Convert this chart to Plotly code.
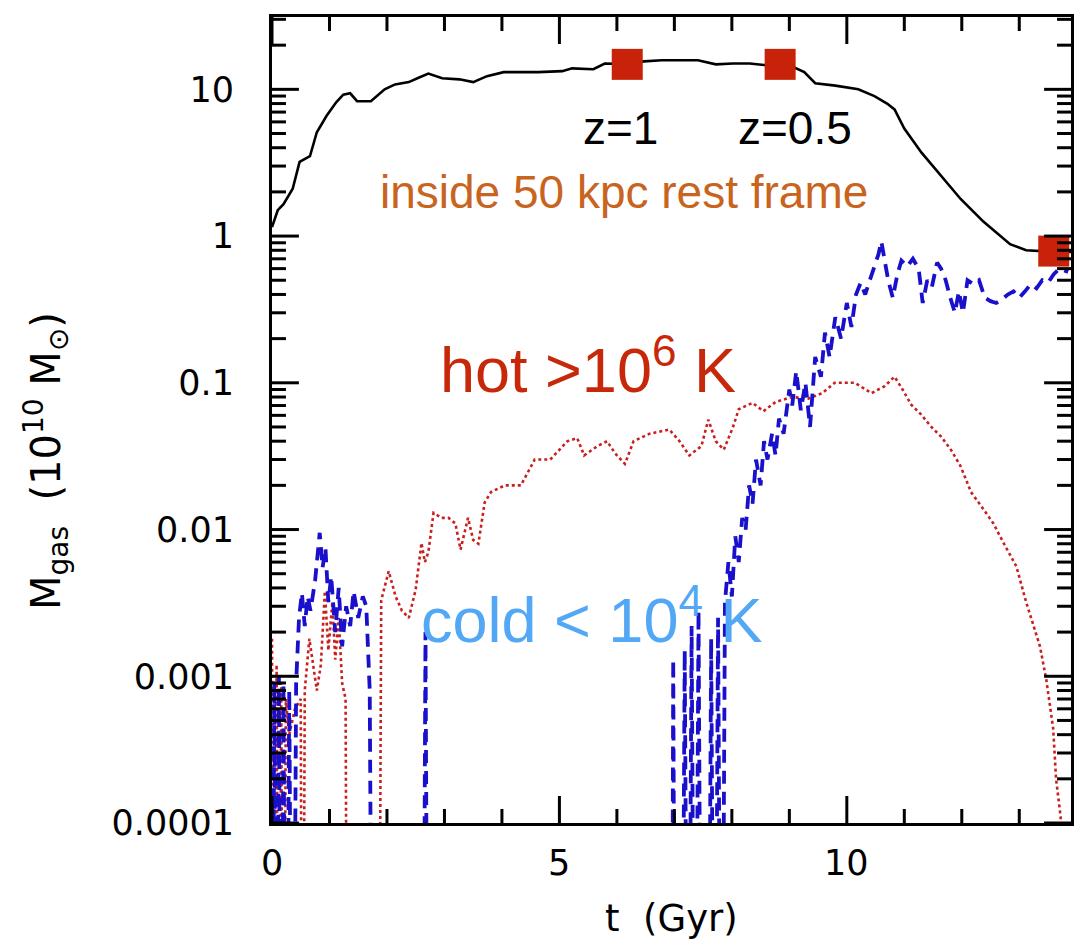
import plotly.graph_objects as go

# ---------------- data ----------------
ZERO = 1e-7  # gas mass effectively zero (drawn below the axis floor)

t_total = [0.0, 0.1, 0.2, 0.26, 0.36, 0.48, 0.6, 0.66, 0.78, 0.95, 1.12, 1.24, 1.36, 1.48,
           1.72, 1.96, 2.14, 2.38, 2.55, 2.72, 2.96, 3.26, 3.5, 3.74, 4.03, 4.63, 5.05, 5.22,
           5.59, 5.79, 6.14, 6.47, 6.78, 7.12, 7.41, 7.72, 8.02, 8.31, 8.6, 8.8, 9.05, 9.26,
           9.45, 9.8, 10.2, 10.48, 10.7, 10.83, 11.0, 11.3, 11.69, 11.98, 12.38, 12.84, 13.12,
           13.3, 13.6, 13.9]
m_total = [1.15, 1.5, 1.65, 1.8, 2.1, 3.2, 3.4, 3.5, 5.1, 6.6, 8.2, 9.2, 9.4, 8.3,
           8.3, 10.0, 10.8, 11.2, 12.0, 12.8, 11.9, 11.7, 11.2, 12.3, 13.1, 13.1, 13.3, 13.9,
           13.7, 15.0, 14.9, 15.5, 15.8, 15.8, 15.8, 14.8, 15.0, 15.0, 14.6, 14.6, 14.3, 13.1,
           11.0, 10.6, 10.0, 9.0, 8.0, 7.3, 5.4, 3.7, 2.45, 1.79, 1.25, 0.88, 0.80,
           0.79, 0.78, 0.78]

t_hot = [0.0, 0.04, 0.08, 0.12, 0.16, 0.2, 0.24, 0.3, 0.4, 0.5, 0.53, 0.57, 0.65, 0.72, 0.78,
         0.85, 0.92, 0.98, 1.05, 1.1, 1.16, 1.22, 1.28, 1.32, 1.85, 1.9, 2.03, 2.15, 2.26,
         2.38, 2.5, 2.6, 2.66, 2.72, 2.81, 2.95, 3.07, 3.19, 3.28, 3.41, 3.5, 3.59, 3.7, 3.81,
         4.05, 4.33, 4.57, 4.84, 5.14, 5.31, 5.43, 5.66, 5.83, 5.97, 6.14, 6.29, 6.57, 6.91,
         7.09, 7.26, 7.47, 7.59, 7.72, 7.86, 8.02, 8.12, 8.36, 8.55, 8.76, 9.05, 9.33, 9.57,
         9.79, 10.14, 10.43, 10.66, 10.83, 10.97, 11.12, 11.29, 11.47, 11.64, 11.81, 11.98,
         12.16, 12.38, 12.55, 12.72, 12.95, 13.12, 13.36, 13.47, 13.59, 13.64, 13.72, 13.76]
m_hot = [0.0018, ZERO, 0.0012, ZERO, 0.0009, ZERO, 0.0007, 0.0004, 0.0006, 0.0007, ZERO, 0.0008,
         0.0018, 0.0012, 0.0008, 0.0012, 0.0038, 0.0015, 0.0032, 0.0013, 0.0025, 0.0009, 0.0007,
         ZERO, ZERO, 0.0033, 0.0052, 0.0035, 0.0028, 0.0025, 0.0039, 0.0081, 0.006, 0.007,
         0.013, 0.012, 0.012, 0.011, 0.0073, 0.012, 0.0085, 0.008, 0.0153, 0.018, 0.02, 0.02,
         0.03, 0.03, 0.04, 0.042, 0.032, 0.037, 0.04, 0.033, 0.028, 0.04, 0.045, 0.048, 0.04,
         0.032, 0.037, 0.056, 0.04, 0.035, 0.05, 0.066, 0.073, 0.064, 0.074, 0.08, 0.078,
         0.085, 0.10, 0.10, 0.085, 0.095, 0.11, 0.09, 0.071, 0.061, 0.05, 0.043, 0.035, 0.027,
         0.018, 0.0137, 0.011, 0.0082, 0.0056, 0.0032, 0.0016, 0.00095, 0.00044, 0.0002,
         0.00011, ZERO]

t_cold = [0.0, 0.04, 0.08, 0.12, 0.16, 0.2, 0.24, 0.3, 0.36, 0.42, 0.47, 0.52, 0.57, 0.62,
          0.67, 0.75, 0.83, 0.88, 0.93, 0.98, 1.03, 1.1, 1.16, 1.22, 1.29, 1.36, 1.42, 1.5,
          1.58, 1.64, 1.7, 1.76, 2.62, 2.67, 2.72, 6.95, 6.98, 7.02, 7.12, 7.18, 7.24, 7.3,
          7.36, 7.42, 7.48, 7.58, 7.64, 7.7, 7.76, 7.82, 7.88, 7.94, 8.0, 8.06, 8.12, 8.18,
          8.24, 8.3, 8.36, 8.42, 8.5, 8.56, 8.62, 8.7, 8.76, 8.82, 8.9, 9.0, 9.05, 9.12, 9.2,
          9.28, 9.36, 9.45, 9.55, 9.62, 9.7, 9.8, 9.9, 10.0, 10.08, 10.16, 10.24, 10.32, 10.4,
          10.48, 10.55, 10.6, 10.66, 10.72, 10.8, 10.88, 10.95, 11.05, 11.15, 11.25, 11.32,
          11.4, 11.48, 11.57, 11.64, 11.72, 11.8, 11.88, 11.95, 12.02, 12.1, 12.2, 12.3, 12.4,
          12.5, 12.6, 12.7, 12.8, 12.9, 13.0, 13.1, 13.2, 13.3, 13.4, 13.5, 13.6, 13.7, 13.85]
m_cold = [ZERO, 0.0009, ZERO, 0.001, ZERO, 0.0009, ZERO, 0.0008, ZERO, 0.0009, 0.0025, 0.0037,
          0.0022, 0.0035, 0.0028, 0.0045, 0.0095, 0.0055, 0.0075, 0.0032, 0.0048, 0.002, 0.004,
          0.0016, 0.003, 0.0022, 0.0038, 0.0025, 0.0035, 0.003, 0.0008, ZERO, ZERO, 0.002, ZERO,
          ZERO, 0.0013, ZERO, ZERO, 0.0015, ZERO, 0.0022, ZERO, 0.0028, ZERO, ZERO, 0.0018, ZERO,
          0.0025, ZERO, 0.0032, 0.006, 0.0035, 0.009, 0.006, 0.012, 0.01, 0.02, 0.015, 0.03,
          0.02, 0.04, 0.03, 0.045, 0.032, 0.057, 0.045, 0.09, 0.07, 0.12, 0.065, 0.1, 0.05,
          0.15, 0.11, 0.22, 0.15, 0.28, 0.2, 0.35, 0.24, 0.4, 0.48, 0.4, 0.5, 0.62, 0.75, 0.92,
          0.7, 0.5, 0.38, 0.55, 0.68, 0.62, 0.7, 0.6, 0.35, 0.5, 0.45, 0.66, 0.6, 0.5, 0.38,
          0.3, 0.42, 0.3, 0.5, 0.47, 0.5, 0.38, 0.36, 0.35, 0.37, 0.4, 0.42, 0.38, 0.42, 0.47,
          0.44, 0.5, 0.48, 0.55, 0.6, 0.57]

# redshift markers on the total curve
z_labels = ["z=1", "z=0.5", "z=0"]
t_z = [6.18, 8.84, 13.6]
m_z = [14.8, 14.8, 0.79]

x_range = [0, 13.9]
y_range_log = [-4, 1.493]
x_tickvals = [0, 5, 10]
x_ticktext = ["0", "5", "10"]
x_minor_vals = [1, 2, 3, 4, 6, 7, 8, 9, 11, 12, 13]
y_tickvals = [1e-4, 1e-3, 1e-2, 1e-1, 1, 10]
y_ticktext = ["0.0001", "0.001", "0.01", "0.1", "1", "10"]
y_minor_vals = [m * d for d in y_tickvals for m in range(2, 10) if m * d < 31]

# ---------------- layout geometry ----------------
W, H = 1080, 943
M_L, M_R, M_T, M_B = 272, 6, 17, 120
plot_w, plot_h = W - M_L - M_R, H - M_T - M_B
MAJOR_LEN, MINOR_LEN = 27, 14  # tick lengths in pixels

# convert the pixel tick lengths into axis units
x_per_px = (x_range[1] - x_range[0]) / plot_w
dec_per_px = (y_range_log[1] - y_range_log[0]) / plot_h


def tick_segments():
    xs, ys = [], []
    y_lo, y_hi = 10 ** y_range_log[0], 10 ** y_range_log[1]
    for vals, L in ((y_tickvals, MAJOR_LEN), (y_minor_vals, MINOR_LEN)):
        dx = L * x_per_px
        for v in vals:
            xs += [x_range[0], x_range[0] + dx, None, x_range[1], x_range[1] - dx, None]
            ys += [v, v, None, v, v, None]
    for vals, L in ((x_tickvals, MAJOR_LEN), (x_minor_vals, MINOR_LEN)):
        f = 10 ** (L * dec_per_px)
        for v in vals:
            xs += [v, v, None, v, v, None]
            ys += [y_lo, y_lo * f, None, y_hi, y_hi / f, None]
    return xs, ys


# ---------------- figure ----------------
fig = go.Figure()

fig.add_trace(go.Scatter(x=t_total, y=m_total, mode="lines",
                         line=dict(color="black", width=2.6), showlegend=False))
fig.add_trace(go.Scatter(x=t_hot, y=m_hot, mode="lines",
                         line=dict(color="#C8201E", width=2.6, dash="3px,3px"), showlegend=False))
fig.add_trace(go.Scatter(x=t_cold, y=m_cold, mode="lines",
                         line=dict(color="#1A10CC", width=3.8, dash="13px,8px"), showlegend=False))
fig.add_trace(go.Scatter(x=t_z, y=m_z, mode="markers", text=z_labels,
                         marker=dict(symbol="square", size=31, color="#C8230A",
                                     line=dict(width=0)),
                         cliponaxis=False, showlegend=False))
# inward tick marks on all four sides
tx, ty = tick_segments()
fig.add_trace(go.Scatter(x=tx, y=ty, mode="lines", line=dict(color="black", width=3),
                         hoverinfo="skip", showlegend=False))

tick_font = dict(family="DejaVu Sans", size=35, color="black")
INVISIBLE = "rgba(0,0,0,0)"

fig.update_layout(
    xaxis=dict(range=x_range, tickmode="array", tickvals=x_tickvals, showticklabels=False,
               ticks="", showline=True, linecolor="black", linewidth=3, mirror=True,
               showgrid=False, zeroline=False),
    yaxis=dict(type="log", range=y_range_log, tickmode="array", tickvals=y_tickvals,
               ticktext=y_ticktext, tickfont=tick_font, ticks="outside", ticklen=28,
               tickcolor=INVISIBLE, showline=True, linecolor="black", linewidth=3,
               mirror=True, showgrid=False, zeroline=False),
)

ann_font = "Liberation Sans, Arial, Helvetica, sans-serif"
annotations = [
    dict(text="z=1", x=0.436, y=0.862, font=dict(family=ann_font, size=46, color="black")),
    dict(text="z=0.5", x=0.655, y=0.862, font=dict(family=ann_font, size=46, color="black")),
    dict(text="inside 50 kpc rest frame", x=0.440, y=0.783,
         font=dict(family=ann_font, size=46, color="#C8641E")),
    dict(text="hot &gt;10<sup>6</sup> K", x=0.396, y=0.567,
         font=dict(family=ann_font, size=63, color="#C8280A")),
    dict(text="cold &lt; 10<sup>4</sup> K", x=0.400, y=0.257,
         font=dict(family=ann_font, size=63, color="#52A8F5")),
    dict(text="t  (Gyr)", x=0.5, y=-0.118, yanchor="middle",
         font=dict(family="DejaVu Sans", size=37, color="black")),
    dict(text="M<sub>gas</sub>  (10<sup>10</sup> M<sub>⊙</sub>)", x=-0.283, y=0.449,
         textangle=-90, font=dict(family="DejaVu Sans", size=40, color="black")),
]
# x-axis tick labels placed at the axis' own tick values
for v, s in zip(x_tickvals, x_ticktext):
    annotations.append(dict(text=s, x=v, xref="x", y=-0.0495, yref="paper",
                            font=tick_font))
for a in annotations:
    a.setdefault("xref", "paper")
    a.setdefault("yref", "paper")
    a.setdefault("xanchor", "center")
    a.setdefault("yanchor", "middle")
    a["showarrow"] = False

fig.update_layout(width=W, height=H, margin=dict(l=M_L, r=M_R, t=M_T, b=M_B),
                  plot_bgcolor="white", paper_bgcolor="white", annotations=annotations)

fig.write_html("out.html")
